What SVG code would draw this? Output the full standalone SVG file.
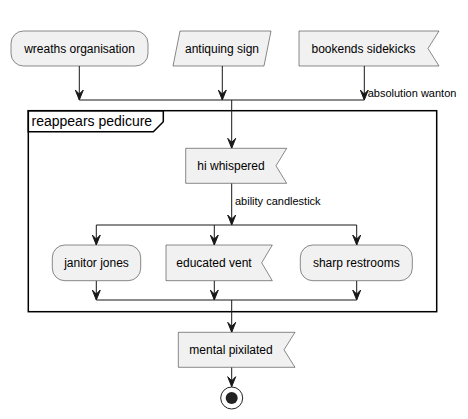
<svg xmlns="http://www.w3.org/2000/svg" width="468" height="419" viewBox="0 0 468 419">
<style>
.n{fill:#F1F1F1;stroke:#181818;stroke-width:0.5}
.t{font-family:"Liberation Sans",Arial,sans-serif;font-size:12px;fill:#000;text-anchor:middle}
.l{font-family:"Liberation Sans",Arial,sans-serif;font-size:11px;fill:#000}
.c{stroke:#181818;stroke-width:1;fill:none}
.ah{fill:#181818;stroke:#181818;stroke-width:1}
</style>
<defs>
<polygon id="arr" class="ah" points="-4,-10 0,0 4,-10 0,-6"/>
</defs>
<rect width="468" height="419" fill="#FFFFFF"/>
<g id="partition">
<rect x="28.3" y="110.7" width="408.4" height="201" fill="none" stroke="#000" stroke-width="1.5"/>
<polygon points="28.3,110.7 163.3,110.7 163.3,121.7 153.3,131.7 28.3,131.7" fill="none" stroke="#000" stroke-width="1.5"/>
<text x="31.5" y="126" style="font-family:'Liberation Sans',Arial,sans-serif;font-size:14px;fill:#000">reappears pedicure</text>
</g>
<g id="connectors">
<path class="c" d="M79.3,66 V100 M222.3,66 V100 M364.3,66 V100 M79.3,100 H364.3 M231.7,100 V148.3"/>
<path class="c" d="M231.7,183.3 V225 M96.3,225 H356.7 M96.3,225 V245 M214.3,225 V245 M356.7,225 V245"/>
<path class="c" d="M96.3,280.7 V300 M214.3,280.7 V300 M356.7,280.7 V300 M96.3,300 H356.7 M231.7,300 V332.3"/>
<path class="c" d="M231.7,367.3 V386.7"/>
<use href="#arr" x="79.3" y="100"/>
<use href="#arr" x="222.3" y="100"/>
<use href="#arr" x="364.3" y="100"/>
<use href="#arr" x="231.7" y="148.3"/>
<use href="#arr" x="231.7" y="225"/>
<use href="#arr" x="96.3" y="245"/>
<use href="#arr" x="214.3" y="245"/>
<use href="#arr" x="356.7" y="245"/>
<use href="#arr" x="96.3" y="300"/>
<use href="#arr" x="214.3" y="300"/>
<use href="#arr" x="356.7" y="300"/>
<use href="#arr" x="231.7" y="332.3"/>
<use href="#arr" x="231.7" y="386.7"/>
<text class="l" x="367.7" y="97">absolution wanton</text>
<text class="l" x="235" y="205">ability candlestick</text>
</g>
<g id="wreaths-organisation">
<rect class="n" x="11" y="31" width="137" height="35" rx="12.5"/>
<text class="t" x="79.5" y="53">wreaths organisation</text>
</g>
<g id="antiquing-sign">
<polygon class="n" points="180,31 271,31 264,66 173,66"/>
<text class="t" x="222" y="53">antiquing sign</text>
</g>
<g id="bookends-sidekicks">
<polygon class="n" points="299,31 439,31 428,48.5 439,66 299,66"/>
<text class="t" x="363.5" y="53">bookends sidekicks</text>
</g>
<g id="hi-whispered">
<polygon class="n" points="185.7,148.3 286.7,148.3 276,165.8 286.7,183.3 185.7,183.3"/>
<text class="t" x="231" y="170.3">hi whispered</text>
</g>
<g id="janitor-jones">
<rect class="n" x="52.3" y="245" width="88.4" height="35.7" rx="12.5"/>
<text class="t" x="96.5" y="267.3">janitor jones</text>
</g>
<g id="educated-vent">
<polygon class="n" points="166,245 272.3,245 261.7,262.8 272.3,280.7 166,280.7"/>
<text class="t" x="214" y="267.3">educated vent</text>
</g>
<g id="sharp-restrooms">
<rect class="n" x="300.3" y="245" width="112" height="35.7" rx="12.5"/>
<text class="t" x="356.3" y="267.3">sharp restrooms</text>
</g>
<g id="mental-pixilated">
<polygon class="n" points="178.3,332.3 295,332.3 284,349.8 295,367.3 178.3,367.3"/>
<text class="t" x="231" y="354.3">mental pixilated</text>
</g>
<g id="end">
<circle cx="231.7" cy="398" r="11" fill="none" stroke="#222" stroke-width="1"/>
<circle cx="231.7" cy="398" r="6" fill="#222"/>
</g>
</svg>
